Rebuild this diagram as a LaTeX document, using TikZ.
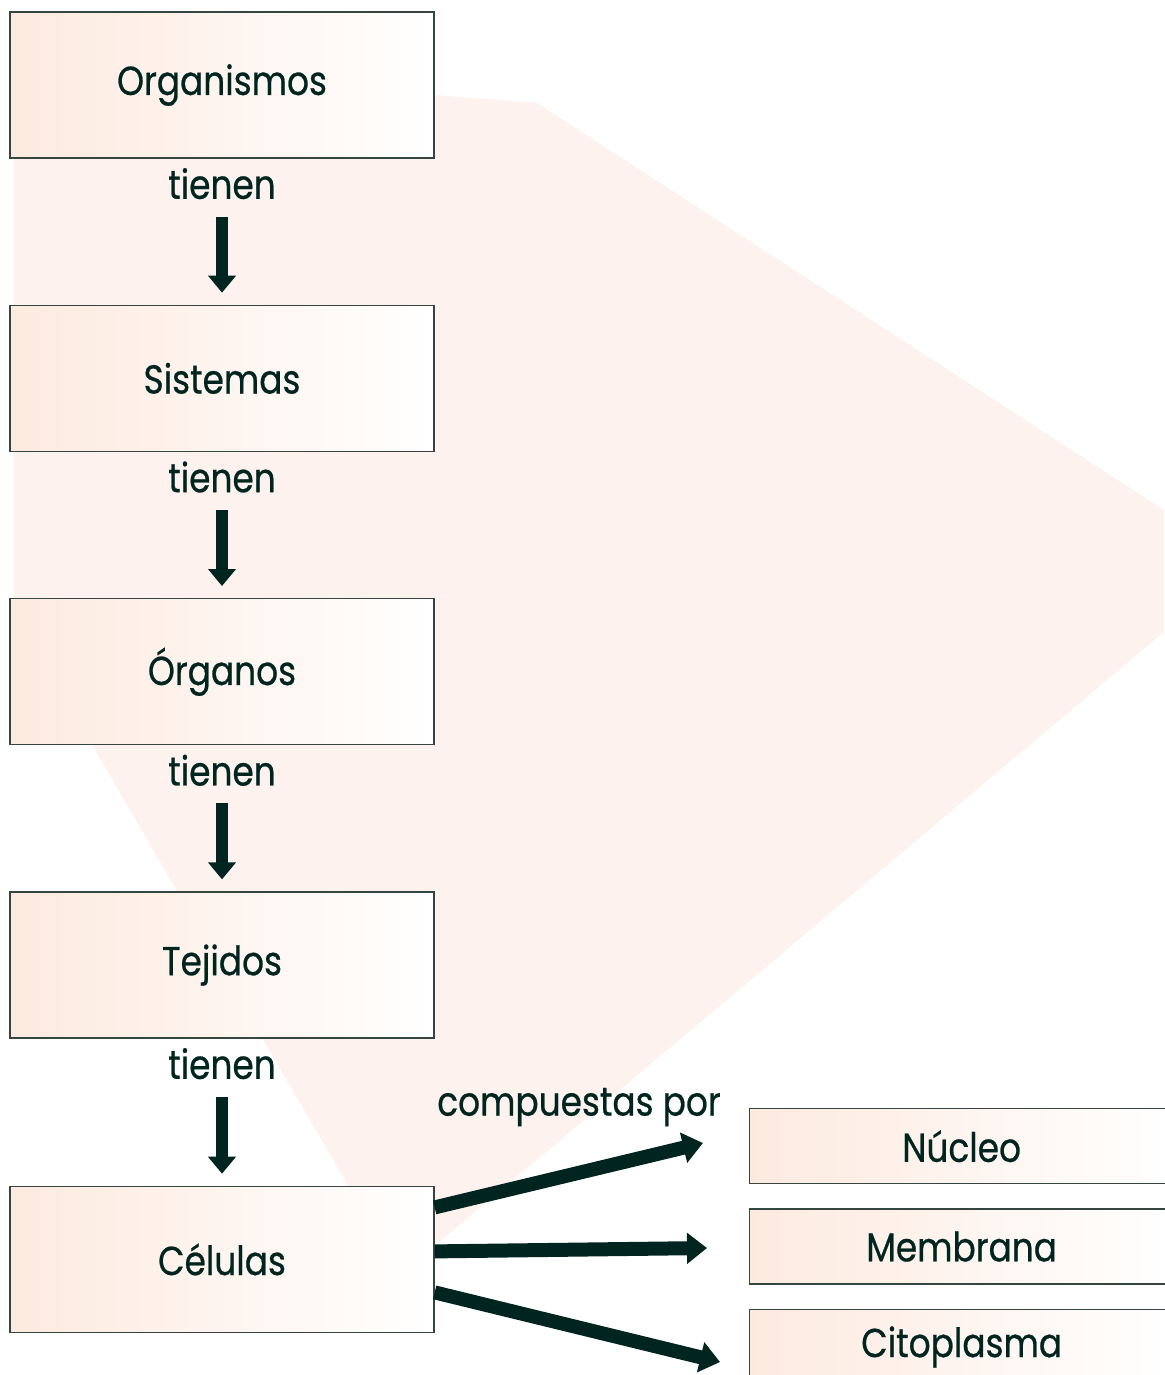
\documentclass[tikz,border=0pt]{standalone}
\usepackage{fontspec}
\setmainfont{Poppins}[FakeStretch=0.85,FakeBold=0.6]
\usepackage{tikz}
\usetikzlibrary{positioning,arrows.meta,calc}

\definecolor{peachbg}{HTML}{FDF2ED}
\definecolor{peachbox}{HTML}{FDEADF}
\definecolor{boxedge}{HTML}{354641}
\definecolor{ink}{HTML}{00241F}

\begin{document}
\begin{tikzpicture}[
    x=0.02cm, y=-0.02cm,
    level/.style={rectangle, draw=boxedge, line width=0.8pt, left color=peachbox, right color=white, text=ink, minimum width=8.48cm, minimum height=2.92cm, font=\fontsize{23}{26}\selectfont},
    part/.style={level, minimum height=1.5cm},
    verb/.style={text=ink, inner sep=0pt, font=\fontsize{23}{26}\selectfont},
    down/.style={draw=ink, line width=0.24cm, shorten <=0.34cm, shorten >=0.24cm, -{Triangle[width=0.54cm,length=0.34cm]}},
    fan/.style={draw=ink, line width=0.28cm, -{Triangle[width=0.6cm,length=0.4cm]}}
]
\useasboundingbox (0,0) rectangle (1164,1375);

% Background shape
\fill[peachbg] (14,62) -- (537,103) -- (1164,510) -- (1164,632) -- (400,1275) -- (14,610) -- cycle;

% Levels
\node [level] (org) at (222,85) {Organismos};
\node [level, below=2.92cm of org] (sis) {Sistemas};
\node [level, below=2.92cm of sis] (orga) {Órganos};
\node [level, below=2.92cm of orga] (tej) {Tejidos};
\node [level, below=2.94cm of tej] (cel) {Células};

% Labels
\node [verb, below=0.18cm of org] (t1) {tienen};
\node [verb, below=0.18cm of sis] (t2) {tienen};
\node [verb, below=0.18cm of orga] (t3) {tienen};
\node [verb, below=0.18cm of tej] (t4) {tienen};
\node [verb] (comp) at (579,1107) {compuestas por};

% Parts of the cell
\node [part, anchor=north west] (nuc) at (749,1108) {Núcleo};
\node [part, below=0.48cm of nuc] (mem) {Membrana};
\node [part, below=0.48cm of mem] (cit) {Citoplasma};

\coordinate (tipn) at (703,1143);
\coordinate (tipm) at (707,1248);
\coordinate (tipc) at (720,1362);

% Connections
\draw [down] (t1.south) -- (sis.north);
\draw [down] (t2.south) -- (orga.north);
\draw [down] (t3.south) -- (tej.north);
\draw [down] (t4.south) -- (cel.north);

\draw [fan] ([yshift=1.04cm]cel.east) -- (tipn);
\draw [fan] ([yshift=0.16cm]cel.east) -- (tipm);
\draw [fan] ([yshift=-0.66cm]cel.east) -- (tipc);

\end{tikzpicture}
\end{document}
